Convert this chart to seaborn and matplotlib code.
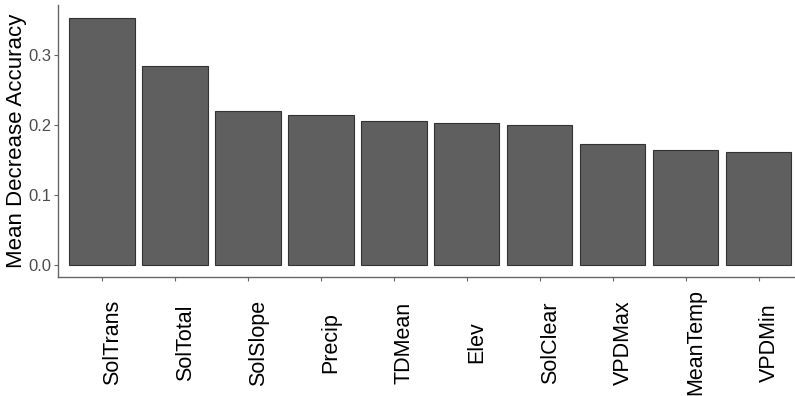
import matplotlib
matplotlib.use("Agg")
import matplotlib.pyplot as plt
import seaborn as sns
import pandas as pd

# Variable importance from the random forest model
variables = ["SolTrans", "SolTotal", "SolSlope", "Precip", "TDMean",
             "Elev", "SolClear", "VPDMax", "MeanTemp", "VPDMin"]
mean_decrease_accuracy = [0.354, 0.285, 0.221, 0.214, 0.206,
                          0.203, 0.200, 0.173, 0.164, 0.162]
y_ticks = [0.0, 0.1, 0.2, 0.3]

df = pd.DataFrame({"variable": variables, "mda": mean_decrease_accuracy})

sns.set_theme(style="white")
plt.rcParams["font.family"] = ["Liberation Sans", "DejaVu Sans"]

fig = plt.figure(figsize=(7.95, 3.96), dpi=100)
ax = fig.add_axes([0.073, 0.3, 0.927, 0.687])

sns.barplot(data=df, x="variable", y="mda", order=variables,
            color="#5f5f5f", saturation=1, width=0.9,
            edgecolor="#333333", linewidth=0.8, ax=ax)

ax.set_xlim(-0.6, 9.5)
ax.set_ylim(-0.0177, 0.372)
ax.set_yticks(y_ticks)
ax.set_yticklabels([f"{v:.1f}" for v in y_ticks])
ax.set_xlabel("")
ax.set_ylabel("Mean Decrease Accuracy", fontsize=16, color="black", labelpad=1)

ax.tick_params(axis="x", labelrotation=90, labelsize=15.5, labelcolor="black",
               length=3, width=0.8, color="#666666", pad=44, bottom=True)
ax.tick_params(axis="y", labelsize=12, labelcolor="#4d4d4d",
               length=3, width=0.8, color="#666666", pad=2, left=True)
# rotated names: centred vertically, starting just right of each tick
for lab in ax.get_xticklabels():
    lab.set_verticalalignment("center")
    lab.set_horizontalalignment("left")

for side in ["top", "right"]:
    ax.spines[side].set_visible(False)
for side in ["left", "bottom"]:
    ax.spines[side].set_color("#666666")
    ax.spines[side].set_linewidth(1.0)

fig.savefig("out.png", dpi=100)
